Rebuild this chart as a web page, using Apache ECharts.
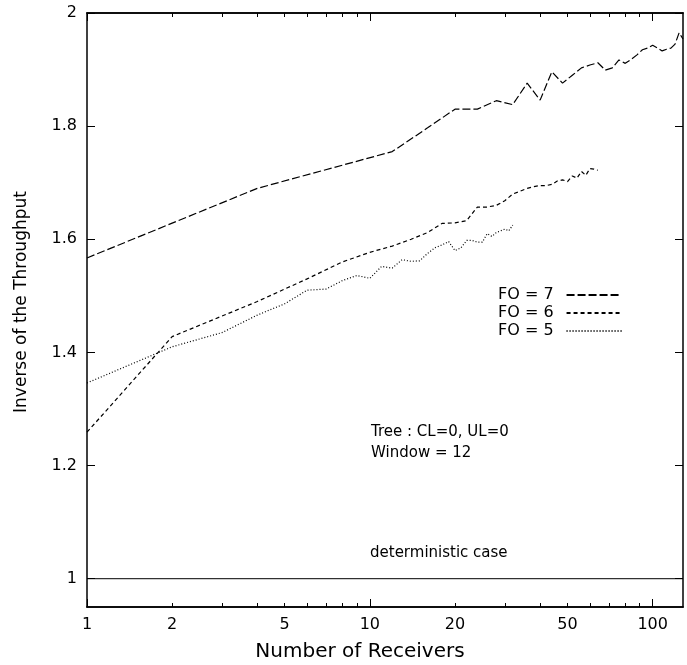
<!DOCTYPE html>
<html><head><meta charset="utf-8">
<script src="https://cdn.jsdelivr.net/npm/echarts@6/dist/echarts.min.js"></script>
<style>html,body{margin:0;padding:0;background:#fff}#c{width:687px;height:665px}</style>
</head><body><div id="c"></div>
<script>
// ---- data ----
const xFO7 = [1,4,8,12,16,20,24,28,32,36,40,44,48,52,56,60,64,68,72,76,80,84,88,92,96,100,104,108,112,116,120,124,128];
const yFO7 = [1.567,1.690,1.731,1.755,1.797,1.830,1.830,1.845,1.838,1.876,1.846,1.896,1.876,1.890,1.903,1.908,1.912,1.899,1.903,1.917,1.911,1.918,1.926,1.935,1.938,1.943,1.938,1.933,1.936,1.938,1.945,1.965,1.954];
const xFO6 = [1,2,4,6,8,10,12,14,16,18,20,22,24,26,28,30,32,34,36,38,40,42,44,46,48,50,52,54,56,58,60,62,64];
const yFO6 = [1.259,1.428,1.490,1.530,1.560,1.577,1.588,1.600,1.612,1.628,1.629,1.633,1.657,1.657,1.660,1.668,1.680,1.685,1.690,1.693,1.695,1.695,1.697,1.703,1.705,1.702,1.712,1.708,1.720,1.713,1.725,1.724,1.722];
const xFO5 = [1,2,3,4,5,6,7,8,9,10,11,12,13,14,15,16,17,18,19,20,21,22,23,24,25,26,27,28,29,30,31,32];
const yFO5 = [1.346,1.410,1.435,1.466,1.486,1.510,1.512,1.527,1.536,1.531,1.552,1.549,1.564,1.561,1.562,1.575,1.585,1.590,1.596,1.580,1.585,1.598,1.598,1.595,1.595,1.610,1.605,1.612,1.615,1.618,1.615,1.625];
const xDet = [1,128];
const yDet = [1,1];
const xMajorTicks = [1,10,100];
const xMinorTicks = [2,3,4,5,6,7,8,9,20,30,40,50,60,70,80,90];
const xTickLabels = [1,2,5,10,20,50,100];
const yTicks = [1,1.2,1.4,1.6,1.8,2];
const seriesNames = ['FO = 7','FO = 6','FO = 5'];

const FONT = '"DejaVu Sans", Verdana, sans-serif';
const zip = (xs, ys) => xs.map((x,i)=>[x, ys[i]]);
const black = '#000';

function xAxis(pos, ticks, len, labels, extra) {
  return Object.assign({
    type:'log', logBase:10, min:1, max:128, position:pos,
    axisLine:{show:true, onZero:false, lineStyle:{color:black, width:1.5}},
    axisTick:{show:true, inside:true, length:len, customValues:ticks, lineStyle:{color:black, width:1}},
    axisLabel: labels ? {show:true, customValues:labels, color:black, fontSize:16, fontFamily:FONT, margin:10,
      formatter: v => String(Math.round(v))} : {show:false},
    splitLine:{show:false}, minorTick:{show:false}, minorSplitLine:{show:false}
  }, extra||{});
}
function yAxis(pos, labels, extra) {
  return Object.assign({
    type:'value', min:0.95, max:2, position:pos,
    axisLine:{show:true, onZero:false, lineStyle:{color:black, width:1.5}},
    axisTick:{show:true, inside:true, length:8, customValues:yTicks, lineStyle:{color:black, width:1}},
    axisLabel: labels ? {show:true, customValues:yTicks, color:black, fontSize:16, fontFamily:FONT, margin:10,
      formatter: v => String(+(+v).toFixed(1))} : {show:false},
    splitLine:{show:false}
  }, extra||{});
}

const chart = echarts.init(document.getElementById('c'), null, {renderer:'canvas'});
chart.setOption({
  animation:false,
  backgroundColor:'#fff',
  grid:{left:87, right:4, top:13, bottom:58, containLabel:false, outerBoundsMode:'none'},
  xAxis:[
    xAxis('bottom', xMajorTicks, 8, xTickLabels, {name:'Number of Receivers', nameLocation:'middle', nameGap:35,
      nameTextStyle:{color:black, fontSize:20, fontFamily:FONT, padding:[0,50,0,0]}}),
    xAxis('bottom', xMinorTicks, 4, null),
    xAxis('top', xMajorTicks, 8, null),
    xAxis('top', xMinorTicks, 4, null)
  ],
  yAxis:[
    yAxis('left', true, {name:'Inverse of the Throughput', nameLocation:'middle', nameGap:57,
      nameTextStyle:{color:black, fontSize:17, fontFamily:FONT, padding:[0,0,0,16]}}),
    yAxis('right', false)
  ],
  legend:{
    data:seriesNames, orient:'vertical', left:498, top:287, align:'right', padding:0,
    itemWidth:55, itemHeight:12, itemGap:2,
    textStyle:{color:black, fontSize:16, fontFamily:FONT, padding:[0,8,0,0]},
    itemStyle:{opacity:0, borderWidth:0},
    inactiveColor:black
  },
  series:[
    {name:'FO = 7', type:'line', data:zip(xFO7,yFO7), symbol:'none', lineStyle:{color:black, width:1.2, type:[8,3]}, itemStyle:{color:black}},
    {name:'FO = 6', type:'line', data:zip(xFO6,yFO6), symbol:'none', lineStyle:{color:black, width:1.2, type:[4,3]}, itemStyle:{color:black}},
    {name:'FO = 5', type:'line', data:zip(xFO5,yFO5), symbol:'none', lineStyle:{color:black, width:1.2, type:[1,2]}, itemStyle:{color:black}},
    {name:'deterministic', type:'line', data:zip(xDet,yDet), symbol:'none', lineStyle:{color:black, width:1}, itemStyle:{color:black}, silent:true}
  ],
  graphic:[
    {type:'text', style:{x:371, y:432, text:'Tree : CL=0, UL=0', fill:black, font:'15px '+FONT, verticalAlign:'middle', textVerticalAlign:'middle'}},
    {type:'text', style:{x:371, y:453, text:'Window = 12', fill:black, font:'15px '+FONT, verticalAlign:'middle', textVerticalAlign:'middle'}},
    {type:'text', style:{x:370, y:553, text:'deterministic case', fill:black, font:'15px '+FONT, verticalAlign:'middle', textVerticalAlign:'middle'}}
  ]
});
</script>
</body></html>
